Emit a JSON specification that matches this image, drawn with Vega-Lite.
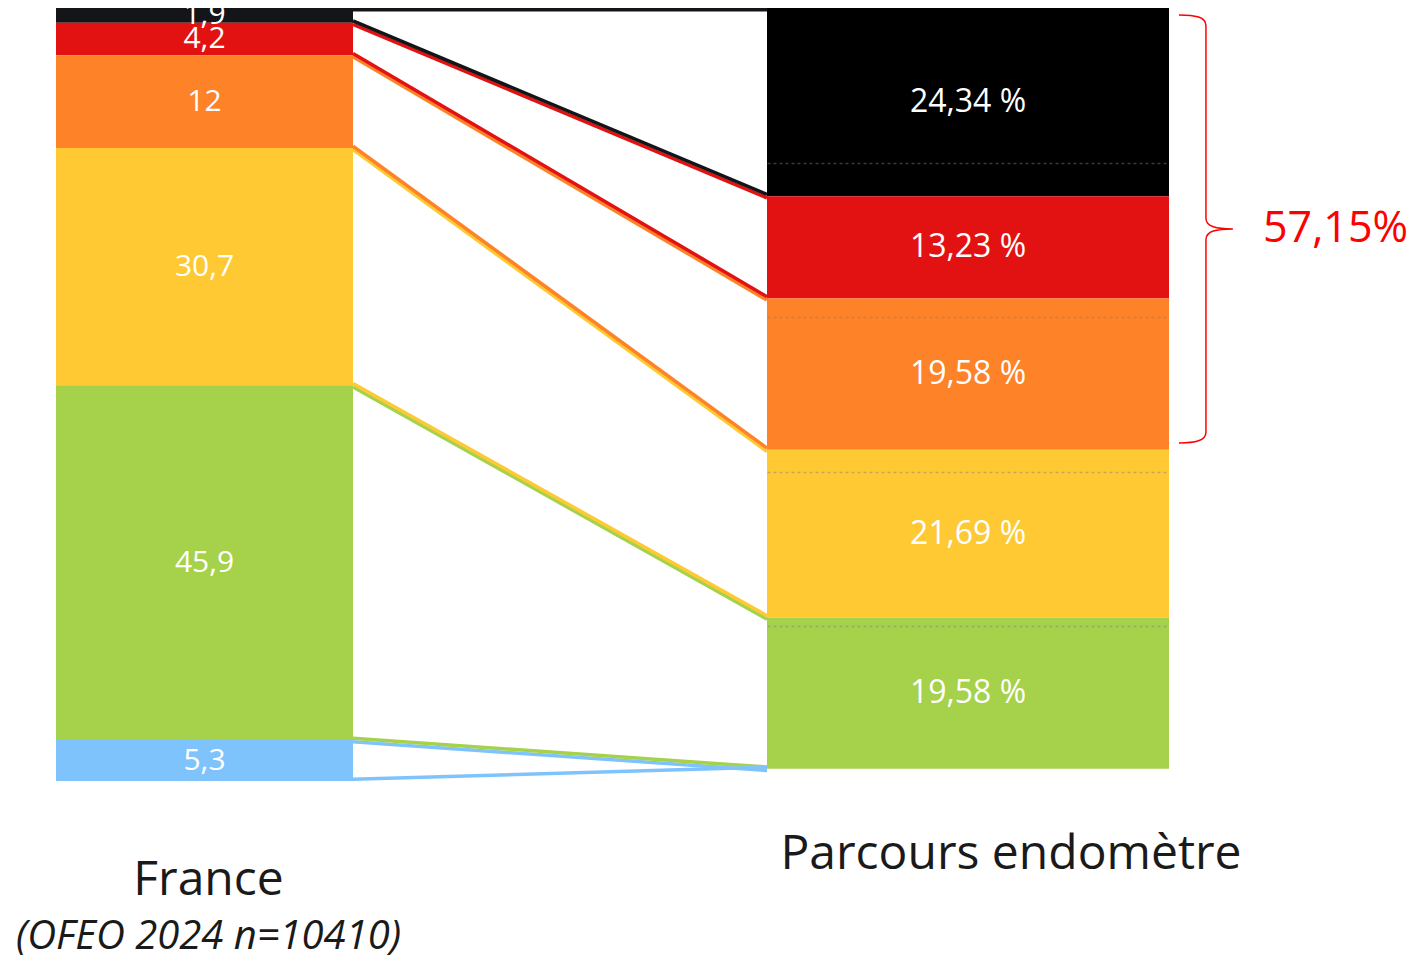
{
  "$schema": "https://vega.github.io/schema/vega-lite/v6.json",
  "padding": {"left": 15, "top": 0, "right": 0, "bottom": 0},
  "background": "white",
  "config": {"view": {"stroke": null}, "font": "Open Sans"},
  "datasets": {
    "segs": [
      {"group": "France", "cat": "noir", "order": 1, "value": 1.9, "label": "1,9"},
      {"group": "France", "cat": "rouge", "order": 2, "value": 4.2, "label": "4,2"},
      {"group": "France", "cat": "orange", "order": 3, "value": 12, "label": "12"},
      {"group": "France", "cat": "jaune", "order": 4, "value": 30.7, "label": "30,7"},
      {"group": "France", "cat": "vert", "order": 5, "value": 45.9, "label": "45,9"},
      {"group": "France", "cat": "bleu", "order": 6, "value": 5.3, "label": "5,3"},
      {"group": "Parcours endomètre", "cat": "noir", "order": 1, "value": 24.34, "label": "24,34 %"},
      {"group": "Parcours endomètre", "cat": "rouge", "order": 2, "value": 13.23, "label": "13,23 %"},
      {"group": "Parcours endomètre", "cat": "orange", "order": 3, "value": 19.58, "label": "19,58 %"},
      {"group": "Parcours endomètre", "cat": "jaune", "order": 4, "value": 21.69, "label": "21,69 %"},
      {"group": "Parcours endomètre", "cat": "vert", "order": 5, "value": 19.58, "label": "19,58 %"},
      {"group": "Parcours endomètre", "cat": "bleu", "order": 6, "value": 0, "label": ""}
    ]
  },
  "spacing": 0,
  "bounds": "flush",
  "resolve": {"scale": {"color": "independent", "y": "independent", "x": "independent"}},
  "hconcat": [
    {
      "width": 297,
      "height": 773,
      "data": {"name": "segs"},
      "transform": [
        {"filter": {"field": "group", "equal": "France"}},
        {"stack": "value", "groupby": ["group"], "sort": [{"field": "order"}], "as": ["y0", "y1"]}
      ],
      "title": {
        "text": "France",
        "subtitle": "(OFEO 2024 n=10410)",
        "orient": "bottom",
        "anchor": "middle",
        "frame": "group",
        "font": "Open Sans",
        "fontSize": 48,
        "fontWeight": "normal",
        "color": "#1a1a1a",
        "offset": 76,
        "dx": 4,
        "subtitleFont": "Open Sans",
        "subtitleFontSize": 40,
        "subtitleFontStyle": "italic",
        "subtitleColor": "#1a1a1a",
        "subtitlePadding": 12
      },
      "layer": [
        {
          "mark": {"type": "bar"},
          "encoding": {
            "x": {"datum": 0, "type": "quantitative", "scale": {"domain": [0, 1], "nice": false, "zero": false}, "axis": null},
            "x2": {"datum": 1},
            "y": {"field": "y0", "type": "quantitative", "scale": {"domain": [0, 100], "reverse": true, "nice": false, "zero": false}, "axis": null},
            "y2": {"field": "y1"},
            "color": {"field": "cat", "type": "nominal", "legend": null,
              "scale": {"domain": ["noir", "rouge", "orange", "jaune", "vert", "bleu"],
                        "range": ["#141518", "#e31212", "#fe8227", "#fec932", "#a6d14a", "#7fc3fd"]}}
          }
        },
        {
          "transform": [
            {"fold": ["y0", "y1"], "as": ["edge", "pos"]},
            {"aggregate": [{"op": "mean", "field": "pos", "as": "mid"}], "groupby": ["label", "order"]}
          ],
          "mark": {"type": "text", "color": "#ffffff", "fontSize": 30, "font": "Open Sans", "baseline": "middle", "align": "center"},
          "encoding": {
            "x": {"datum": 0.5, "type": "quantitative", "scale": {"domain": [0, 1], "nice": false, "zero": false}, "axis": null},
            "y": {"field": "mid", "type": "quantitative", "scale": {"domain": [0, 100], "reverse": true, "nice": false, "zero": false}, "axis": null},
            "text": {"field": "label"}
          }
        }
      ]
    },
    {
      "width": 414,
      "height": 773,
      "data": {"name": "segs"},
      "transform": [
        {"stack": "value", "groupby": ["group"], "sort": [{"field": "order"}], "as": ["y0", "y1"]},
        {"fold": ["y0", "y1"], "as": ["edge", "pos"]},
        {"pivot": "group", "value": "pos", "groupby": ["cat", "order", "edge"]}
      ],
      "layer": [
        {
          "transform": [{"filter": {"field": "edge", "equal": "y0"}}],
          "mark": {"type": "rule", "strokeWidth": 3.5, "yOffset": 1.7, "y2Offset": 1.7},
          "encoding": {
            "x": {"datum": 0, "type": "quantitative", "scale": {"domain": [0, 1], "nice": false, "zero": false}, "axis": null},
            "x2": {"datum": 1},
            "y": {"field": "France", "type": "quantitative", "scale": {"domain": [0, 100], "reverse": true, "nice": false, "zero": false}, "axis": null},
            "y2": {"field": "Parcours endomètre"},
            "color": {"field": "cat", "type": "nominal", "legend": null,
              "scale": {"domain": ["noir", "rouge", "orange", "jaune", "vert", "bleu"],
                        "range": ["#141518", "#e31212", "#fe8227", "#fec932", "#a6d14a", "#7fc3fd"]}}
          }
        },
        {
          "transform": [{"filter": {"field": "edge", "equal": "y1"}}],
          "mark": {"type": "rule", "strokeWidth": 3.5, "yOffset": -1.7, "y2Offset": -1.7},
          "encoding": {
            "x": {"datum": 0, "type": "quantitative", "scale": {"domain": [0, 1], "nice": false, "zero": false}, "axis": null},
            "x2": {"datum": 1},
            "y": {"field": "France", "type": "quantitative", "scale": {"domain": [0, 100], "reverse": true, "nice": false, "zero": false}, "axis": null},
            "y2": {"field": "Parcours endomètre"},
            "color": {"field": "cat", "type": "nominal", "legend": null,
              "scale": {"domain": ["noir", "rouge", "orange", "jaune", "vert", "bleu"],
                        "range": ["#141518", "#e31212", "#fe8227", "#fec932", "#a6d14a", "#7fc3fd"]}}
          }
        }
      ]
    },
    {
      "width": 402,
      "height": 773,
      "data": {"name": "segs"},
      "transform": [
        {"filter": {"field": "group", "equal": "Parcours endomètre"}},
        {"stack": "value", "groupby": ["group"], "sort": [{"field": "order"}], "as": ["y0", "y1"]}
      ],
      "title": {
        "text": "Parcours endomètre",
        "orient": "bottom",
        "anchor": "middle",
        "frame": "group",
        "font": "Open Sans",
        "fontSize": 48,
        "fontWeight": "normal",
        "color": "#1a1a1a",
        "offset": 50,
        "dx": 43
      },
      "layer": [
        {
          "mark": {"type": "bar"},
          "encoding": {
            "x": {"datum": 0, "type": "quantitative", "scale": {"domain": [0, 1], "nice": false, "zero": false}, "axis": null},
            "x2": {"datum": 1},
            "y": {"field": "y0", "type": "quantitative", "scale": {"domain": [0, 100], "reverse": true, "nice": false, "zero": false},
                  "axis": {"grid": true, "values": [20, 40, 60, 80], "labels": false, "ticks": false, "domain": false, "title": null,
                           "gridColor": "#808080", "gridOpacity": 0.45, "gridDash": [3, 3], "gridWidth": 1.5, "zindex": 1}},
            "y2": {"field": "y1"},
            "color": {"field": "cat", "type": "nominal", "legend": null,
              "scale": {"domain": ["noir", "rouge", "orange", "jaune", "vert", "bleu"],
                        "range": ["#000000", "#e31212", "#fe8227", "#fec932", "#a6d14a", "#7fc3fd"]}}
          }
        },
        {
          "transform": [
            {"filter": {"field": "value", "gt": 0}},
            {"fold": ["y0", "y1"], "as": ["edge", "pos"]},
            {"aggregate": [{"op": "mean", "field": "pos", "as": "mid"}], "groupby": ["label", "order"]}
          ],
          "mark": {"type": "text", "color": "#ffffff", "fontSize": 32, "font": "Open Sans", "baseline": "middle", "align": "center"},
          "encoding": {
            "x": {"datum": 0.5, "type": "quantitative", "scale": {"domain": [0, 1], "nice": false, "zero": false}, "axis": null},
            "y": {"field": "mid", "type": "quantitative", "scale": {"domain": [0, 100], "reverse": true, "nice": false, "zero": false}},
            "text": {"field": "label"}
          }
        }
      ]
    },
    {
      "width": 248,
      "height": 773,
      "data": {"name": "segs"},
      "transform": [
        {"filter": {"field": "group", "equal": "Parcours endomètre"}},
        {"stack": "value", "groupby": ["group"], "sort": [{"field": "order"}], "as": ["y0", "y1"]},
        {"filter": {"field": "order", "lte": 3}},
        {"aggregate": [{"op": "min", "field": "y0", "as": "lo"}, {"op": "max", "field": "y1", "as": "hi"}]},
        {"fold": ["lo", "hi"], "as": ["edge", "pos"]},
        {"aggregate": [{"op": "mean", "field": "pos", "as": "mid"}]}
      ],
      "layer": [
        {
          "mark": {
            "type": "point",
            "shape": "M-0.126,-1 C-0.05,-1 0,-0.99 0,-0.95 L0,-0.05 C0,-0.01 0.05,0 0.126,0 C0.05,0 0,0.01 0,0.05 L0,0.95 C0,0.99 -0.05,1 -0.126,1",
            "size": 183184,
            "filled": false,
            "stroke": "#ff0000",
            "strokeWidth": 1.5,
            "opacity": 1
          },
          "encoding": {
            "x": {"datum": 0.149, "type": "quantitative", "scale": {"domain": [0, 1], "nice": false, "zero": false}, "axis": null},
            "y": {"field": "mid", "type": "quantitative", "scale": {"domain": [0, 100], "reverse": true, "nice": false, "zero": false}, "axis": null}
          }
        },
        {
          "mark": {"type": "text", "color": "#ff0000", "fontSize": 43, "font": "Open Sans", "baseline": "middle", "align": "left"},
          "encoding": {
            "x": {"datum": 0.379, "type": "quantitative", "scale": {"domain": [0, 1], "nice": false, "zero": false}, "axis": null},
            "y": {"field": "mid", "type": "quantitative", "scale": {"domain": [0, 100], "reverse": true, "nice": false, "zero": false}, "axis": null},
            "text": {"value": "57,15%"}
          }
        }
      ]
    }
  ]
}
